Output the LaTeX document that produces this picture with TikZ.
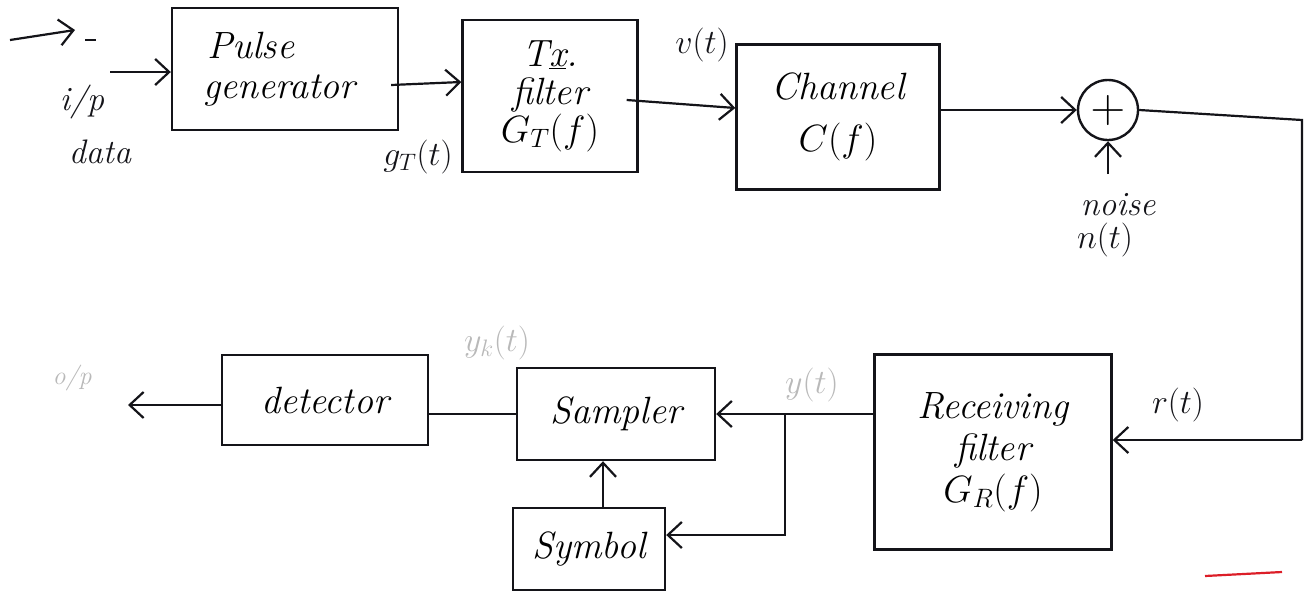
\RequirePackage{fix-cm}
\documentclass[tikz,border=0pt]{standalone}
\usetikzlibrary{arrows.meta,calc}
\definecolor{ink}{RGB}{20,20,25}
\definecolor{faint}{RGB}{185,185,185}
\definecolor{redmark}{RGB}{220,30,40}
\tikzset{
  blk/.style={draw=ink, line width=2.4pt, inner sep=2pt, align=center, font=\fontsize{38}{42}\selectfont\itshape},
  wire/.style={draw=ink, line width=2.2pt},
  arr/.style={wire, -{Straight Barb[length=14pt,width=26pt,line width=2.2pt]}},
  lbl/.style={text=ink, font=\fontsize{34}{36}\selectfont\itshape, inner sep=1pt},
  flbl/.style={lbl, text=faint}
}
\begin{document}
\begin{tikzpicture}[x=1pt,y=-1pt]
\useasboundingbox (0,0) rectangle (1306,614);
% blocks
\node[blk, minimum width=226pt, minimum height=122pt] (pg) at (285,69) {Pulse\hspace*{1.8em}\\[-2pt]generator\hspace*{0.3em}};
\node[blk, minimum width=175pt, minimum height=152pt] (tx) at (550,96) {T\underline{x}.\\[-4pt]filter\\[-4pt]$G_T(f)$};
\node[blk, minimum width=203pt, minimum height=145pt] (ch) at (838,117) {Channel\\[10pt]$C(f)$};
\node[draw=ink, line width=2.4pt, circle, minimum size=60pt, inner sep=0pt, font=\fontsize{48}{48}\selectfont] (add) at (1108,110) {$+$};
\node[blk, minimum width=237pt, minimum height=195pt] (rf) at (993,452) {Receiving\\filter\\$G_R(f)$};
\node[blk, minimum width=198pt, minimum height=92pt] (sm) at (616,414) {Sampler};
\node[blk, minimum width=152pt, minimum height=82pt] (sy) at (589,549) {Symbol};
\node[blk, minimum width=206pt, minimum height=90pt] (dt) at (325,400) {detector};
% free ends
\coordinate (s1) at (10,40);
\coordinate (s2) at (75,30);
\coordinate (inS) at (110,72);
\coordinate (nz) at (1108,174);
\coordinate (c1) at (1302,120);
\coordinate (c2) at (1302,440);
\coordinate (br) at (785,414);
\coordinate (out) at (128,405);
% connectors
\draw[arr] (s1) -- (s2);
\draw[wire] (85,40) -- (96,40);
\draw[arr] (inS) -- (pg.west |- inS);
\draw[arr] ($(pg.east)+(-8,16)$) -- ($(tx.west)+(0,-14)$);
\draw[arr] ($(tx.east)+(-12,4)$) -- ($(ch.west)+(0,-9)$);
\draw[arr] (ch.east |- add) -- (add.west);
\draw[arr] (nz) -- (add.south);
\draw[wire] (add.east) -- (c1) -- (c2);
\draw[arr] (c2) -- (rf.east |- c2);
\draw[arr] (rf.west |- sm) -- (sm.east);
\draw[arr] (br) |- ($(sy.east)+(0,-14)$);
\draw[arr] ($(sy.north)+(14,0)$) -- ($(sm.south)+(-13,0)$);
\draw[wire] (sm.west) -- (dt.east |- sm.west);
\draw[arr] (dt.west |- out) -- (out);
% labels
\node[lbl] (ip) at (82,102) {i/p};
\node[lbl] (data) at (100,152) {data};
\node[lbl] (gt) at (418,157) {$g_T(t)$};
\node[lbl] (vt) at (702,45) {$v(t)$};
\node[lbl] (noise) at (1118,205) {noise};
\node[lbl] (nt) at (1105,240) {$n(t)$};
\node[lbl] (rt) at (1178,405) {$r(t)$};
\node[flbl] (yt) at (812,385) {$y(t)$};
\node[flbl] (ykt) at (497,343) {$y_k(t)$};
\node[flbl, font=\fontsize{26}{28}\selectfont\itshape] (op) at (72,378) {o/p};
% stray red mark
\draw[redmark, line width=2.2pt] (1205,576) -- (1282,572);
\end{tikzpicture}
\end{document}
